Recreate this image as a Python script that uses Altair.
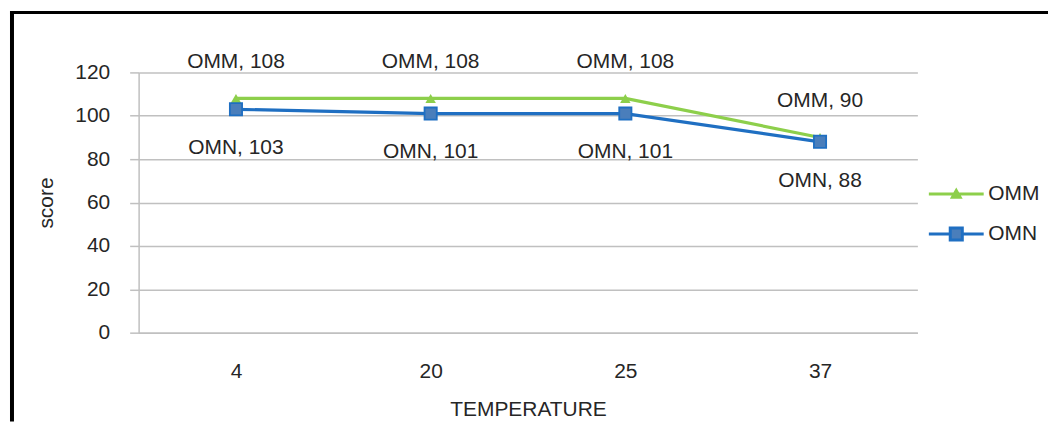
import altair as alt
import pandas as pd

temperatures = ["4", "20", "25", "37"]
series_names = ["OMM", "OMN"]
omm_scores = [108, 108, 108, 90]
omn_scores = [103, 101, 101, 88]
y_ticks = [0, 20, 40, 60, 80, 100, 120]

rows = []
for s, vals in zip(series_names, [omm_scores, omn_scores]):
    for t, v in zip(temperatures, vals):
        rows.append({"temp": t, "series": s, "score": v, "label": f"{s}, {v}"})
df = pd.DataFrame(rows)

W, H = 781, 261
FONT = "Liberation Sans"
TXT = "#262626"
GRID = "#c0c0c0"
GREEN = "#8DCF4B"
BLUE = "#1F6FC2"
SQ_FILL = "#4A7EBB"
FS = 21

x_enc = alt.X(
    "temp:N", sort=temperatures,
    scale=alt.Scale(type="point", padding=0.5),
    axis=alt.Axis(title="TEMPERATURE", labelAngle=0, ticks=False, grid=False,
                  domainColor=GRID, domainWidth=1.5,
                  labelFont=FONT, labelFontSize=FS, labelColor=TXT, labelPadding=28,
                  titleFont=FONT, titleFontSize=FS, titleFontWeight="normal",
                  titleColor=TXT, titlePadding=17),
)
y_enc = alt.Y(
    "score:Q", scale=alt.Scale(domain=[0, 120], nice=False),
    axis=alt.Axis(title="score", values=y_ticks, tickSize=9, tickColor=GRID, tickWidth=1.5,
                  gridColor=GRID, gridWidth=1.5, domainColor=GRID, domainWidth=1.5,
                  labelFont=FONT, labelFontSize=FS, labelColor=TXT, labelPadding=20,
                  titleFont=FONT, titleFontSize=FS, titleFontWeight="normal",
                  titleColor=TXT, titlePadding=18),
)

base = alt.Chart(df)

omm_line = base.transform_filter(alt.datum.series == "OMM").mark_line(
    color=GREEN, strokeWidth=3.2).encode(x=x_enc, y=y_enc)
omm_pts = base.transform_filter(alt.datum.series == "OMM").mark_point(
    shape="triangle-up", filled=True, color=GREEN, size=110, opacity=1).encode(x=x_enc, y=y_enc)
omn_line = base.transform_filter(alt.datum.series == "OMN").mark_line(
    color=BLUE, strokeWidth=3.2).encode(x=x_enc, y=y_enc)
omn_pts = base.transform_filter(alt.datum.series == "OMN").mark_point(
    shape="square", filled=True, fill=SQ_FILL, stroke=BLUE, strokeWidth=1.8,
    size=150, opacity=1).encode(x=x_enc, y=y_enc)

omm_text = base.transform_filter(alt.datum.series == "OMM").mark_text(
    font=FONT, fontSize=FS, color=TXT, baseline="middle", align="center", dy=-37
).encode(x=x_enc, y=y_enc, text="label:N")
omn_text = base.transform_filter(alt.datum.series == "OMN").mark_text(
    font=FONT, fontSize=FS, color=TXT, baseline="middle", align="center", dy=39
).encode(x=x_enc, y=y_enc, text="label:N")

tri_path = "M-1,0H1M-0.14,0.12L0,-0.13L0.14,0.12Z"
sq_path = "M-1,0H-0.22M0.22,0H1M-0.22,-0.22H0.22V0.22H-0.22Z"

leg = alt.Legend(title=None, orient="none", legendX=791, legendY=93, padding=0,
                 symbolSize=3025, symbolStrokeWidth=3, symbolOpacity=1,
                 labelFont=FONT, labelFontSize=FS, labelColor=TXT, labelOffset=3,
                 rowPadding=1)

legend_layer = base.mark_point(filled=True, opacity=0).encode(
    x=x_enc, y=y_enc,
    color=alt.Color("series:N", scale=alt.Scale(domain=series_names, range=[GREEN, SQ_FILL]), legend=leg),
    stroke=alt.Stroke("series:N", scale=alt.Scale(domain=series_names, range=[GREEN, BLUE]), legend=leg),
    shape=alt.Shape("series:N", scale=alt.Scale(domain=series_names, range=[tri_path, sq_path]), legend=leg),
)

frame_df = pd.DataFrame({"k": [0]})
left_frame = alt.Chart(frame_df).mark_rule(color="black", strokeWidth=4).encode(
    x=alt.value(-127), y=alt.value(-61.5), y2=alt.value(350))
top_frame = alt.Chart(frame_df).mark_rule(color="black", strokeWidth=3).encode(
    y=alt.value(-60), x=alt.value(-129), x2=alt.value(912))

chart = alt.layer(
    left_frame, top_frame, omm_line, omm_pts, omn_line, omn_pts, omm_text, omn_text, legend_layer
).properties(width=W, height=H, padding=0).configure_view(stroke=None)

chart.save("out.html", embed_options={"renderer": "svg", "actions": False})
